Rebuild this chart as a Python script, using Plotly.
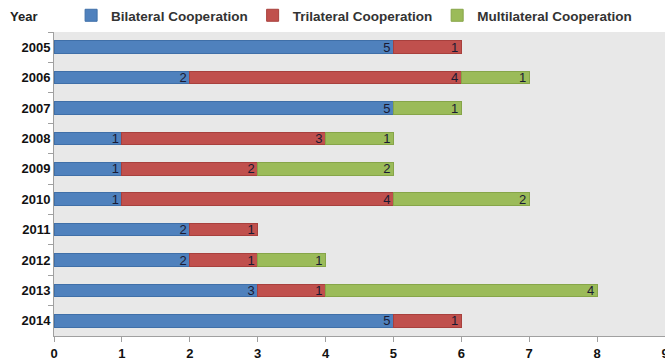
import plotly.graph_objects as go

years = ["2005", "2006", "2007", "2008", "2009", "2010", "2011", "2012", "2013", "2014"]
bilateral = [5, 2, 5, 1, 1, 1, 2, 2, 3, 5]
trilateral = [1, 4, None, 3, 2, 4, 1, 1, 1, 1]
multilateral = [None, 1, 1, 1, 2, 2, None, 1, 4, None]
x_ticks = [0, 1, 2, 3, 4, 5, 6, 7, 8, 9]

series = [
    ("Bilateral Cooperation", bilateral, "#4F81BD", "#3F6FA8"),
    ("Trilateral Cooperation", trilateral, "#C0504D", "#A8403D"),
    ("Multilateral Cooperation", multilateral, "#9BBB59", "#86A548"),
]

fig = go.Figure()
for name, vals, col, lcol in series:
    fig.add_trace(go.Bar(
        name=name, y=years, x=vals, orientation="h",
        marker=dict(color=col, line=dict(color=lcol, width=1)),
        text=[str(v) if v else "" for v in vals],
        textposition="inside", insidetextanchor="end", textangle=0,
        textfont=dict(family="Liberation Sans", size=13, color="#1A1A33"),
        constraintext="none",
        width=0.42,
    ))

fig.update_layout(
    barmode="stack",
    width=665, height=362,
    margin=dict(l=54, r=0, t=32, b=26, autoexpand=False),
    paper_bgcolor="white",
    plot_bgcolor="#E8E8E8",
    font=dict(family="Liberation Sans", size=12, color="#222222"),
    showlegend=True,
    legend=dict(
        orientation="h", x=0.028, y=1.0, xanchor="left", yanchor="top",
        yref="container", font=dict(size=13.5, color="#333333", weight="bold"),
        itemwidth=30, traceorder="normal", bgcolor="rgba(0,0,0,0)",
    ),
    xaxis=dict(
        range=[0, 9], tickvals=x_ticks, ticktext=[str(t) for t in x_ticks],
        showgrid=False, zeroline=False, showline=True, linecolor="#A0A0A0",
        ticks="outside", ticklen=5, tickcolor="#A0A0A0",
        ticklabeloverflow="allow", automargin=False,
        tickfont=dict(size=13, color="#111111", weight="bold"),
    ),
    yaxis=dict(
        categoryorder="array", categoryarray=years, autorange="reversed",
        showgrid=False, showline=True, linecolor="#A0A0A0",
        ticks="outside", ticklen=5, tickcolor="#A0A0A0", tickson="boundaries",
        automargin=False,
        tickfont=dict(size=13, color="#111111", weight="bold"),
    ),
    annotations=[dict(
        text="Year", xref="paper", yref="paper", x=-0.075, y=1.0,
        xanchor="left", yanchor="bottom", yshift=6, showarrow=False,
        font=dict(size=13, color="#222222", weight="bold"),
    )],
)

fig.write_html("out.html")
